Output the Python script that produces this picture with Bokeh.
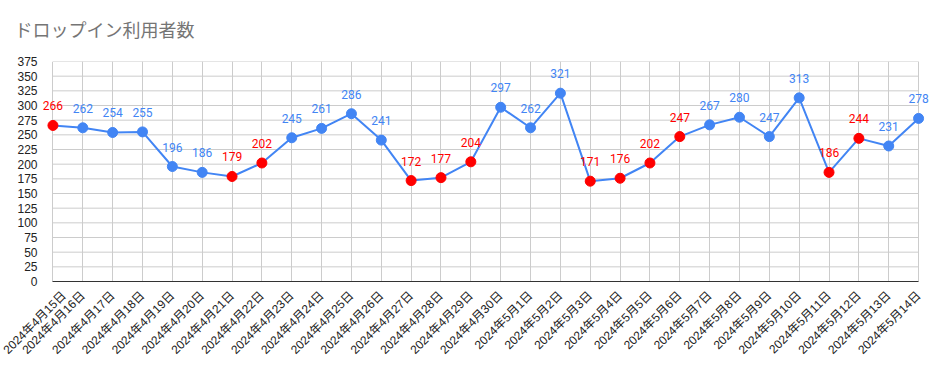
import math
from bokeh.plotting import figure
from bokeh.models import ColumnDataSource, Range1d, FixedTicker, Label, Title
from bokeh.embed import file_html
from bokeh.resources import INLINE

dates = ["2024年4月15日", "2024年4月16日", "2024年4月17日", "2024年4月18日", "2024年4月19日",
         "2024年4月20日", "2024年4月21日", "2024年4月22日", "2024年4月23日", "2024年4月24日",
         "2024年4月25日", "2024年4月26日", "2024年4月27日", "2024年4月28日", "2024年4月29日",
         "2024年4月30日", "2024年5月1日", "2024年5月2日", "2024年5月3日", "2024年5月4日",
         "2024年5月5日", "2024年5月6日", "2024年5月7日", "2024年5月8日", "2024年5月9日",
         "2024年5月10日", "2024年5月11日", "2024年5月12日", "2024年5月13日", "2024年5月14日"]
visitors = [266, 262, 254, 255, 196, 186, 179, 202, 245, 261,
            286, 241, 172, 177, 204, 297, 262, 321, 171, 176,
            202, 247, 267, 280, 247, 313, 186, 244, 231, 278]
holiday = [1, 0, 0, 0, 0, 0, 1, 1, 0, 0,
           0, 0, 1, 1, 1, 0, 0, 0, 1, 1,
           1, 1, 0, 0, 0, 0, 1, 1, 0, 0]
y_ticks = list(range(0, 376, 25))
title = "ドロップイン利用者数"

BLUE = "#4285F4"
RED = "#FF0000"
GRID = "#cccccc"

xs = list(range(len(dates)))
colors = [RED if h else BLUE for h in holiday]
src = ColumnDataSource(dict(x=xs, y=visitors, c=colors))

p = figure(width=943, height=371, output_backend="svg", toolbar_location=None,
           x_range=Range1d(xs[0] - 0.35, xs[-1] + 0.5), y_range=Range1d(0, 375),
           min_border_left=42, min_border_right=10, min_border_top=61, min_border_bottom=90)
p.outline_line_color = None
p.background_fill_color = "white"

# horizontal grid lines limited to the category span
p.segment(x0=[xs[0]] * len(y_ticks), x1=[xs[-1]] * len(y_ticks), y0=y_ticks, y1=y_ticks,
          line_color=GRID, line_width=1, level="underlay")

p.line("x", "y", source=src, line_color=BLUE, line_width=2)
p.scatter("x", "y", source=src, fill_color="c", line_color="c", size=10)

for xi, yi, ci in zip(xs, visitors, colors):
    p.add_layout(Label(x=xi, y=yi, text=str(yi), text_color=ci,
                       text_font="Roboto", text_font_size="12px", text_align="center",
                       text_baseline="bottom", y_offset=15))

p.xaxis.ticker = FixedTicker(ticks=xs)
p.xaxis.bounds = (xs[0], xs[-1])
p.xaxis.major_label_overrides = {i: d for i, d in enumerate(dates)}
p.xaxis.major_label_orientation = math.pi / 4
p.xaxis.major_label_text_font = "Liberation Sans, Noto Sans CJK JP"
p.xaxis.major_label_text_font_size = "12px"
p.xaxis.major_label_text_color = "#222222"
p.xaxis.major_tick_line_color = None
p.xaxis.minor_tick_line_color = None
p.xaxis.axis_line_color = "#333333"
p.xaxis.axis_line_width = 1
p.xaxis.major_label_standoff = 6

p.yaxis.ticker = FixedTicker(ticks=y_ticks)
p.yaxis.major_label_text_font = "Liberation Sans"
p.yaxis.major_label_text_font_size = "12px"
p.yaxis.major_label_text_color = "#222222"
p.yaxis.major_tick_line_color = None
p.yaxis.minor_tick_line_color = None
p.yaxis.axis_line_color = None
p.yaxis.major_label_standoff = -1

p.xgrid.grid_line_color = GRID
p.ygrid.grid_line_color = None

p.title.text = title
p.title.text_font = "Noto Sans CJK JP"
p.title.text_font_size = "18px"
p.title.text_font_style = "normal"
p.title.text_color = "#757575"
p.title.offset = -28
p.add_layout(Title(text=" ", text_font_size="3px"), "above")

open("out.html", "w").write(file_html(p, INLINE))
